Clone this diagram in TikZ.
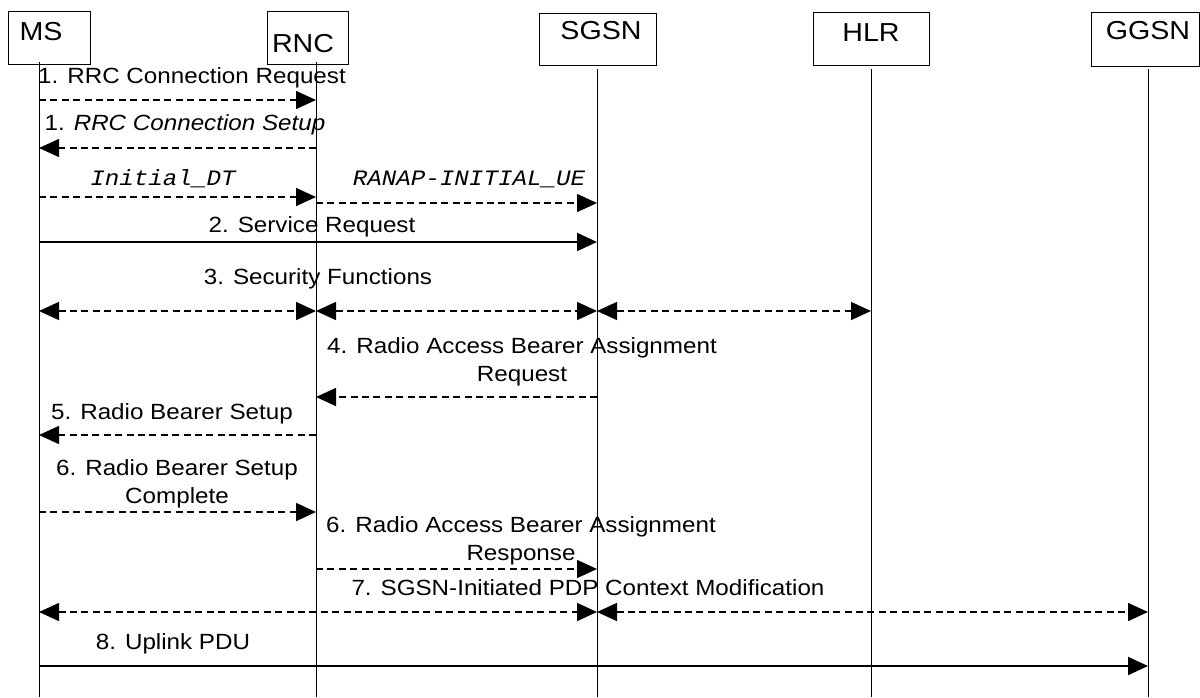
\documentclass[tikz,border=0pt]{standalone}
\usepackage{fontspec}
\setmainfont{Liberation Sans}[FakeStretch=1.1]
\setmonofont{Liberation Mono}[FakeStretch=1.1]
\usetikzlibrary{arrows.meta}

\begin{document}
\begin{tikzpicture}[x=0.5pt, y=-0.5pt,
    box/.style={draw, line width=0.5pt, inner sep=0pt},
    head/.style={inner sep=0pt, anchor=base, font=\fontsize{13}{15}\selectfont},
    lbl/.style={inner sep=0pt, anchor=base, font=\fontsize{11}{14}\selectfont},
    lifeline/.style={line width=0.5pt},
    dmsg/.style={line width=0.75pt, dash pattern=on 3.5pt off 2.2pt, -{Triangle[length=10pt, width=9pt]}},
    bmsg/.style={dmsg, {Triangle[length=10pt, width=9pt]}-{Triangle[length=10pt, width=9pt]}},
    smsg/.style={line width=1pt, -{Triangle[length=10pt, width=9pt]}}]
    \useasboundingbox (0,0) rectangle (1200,697);

    % Nodes
    \node[box, minimum width=41pt, minimum height=26.5pt] (msbox) at (49,37.5) {};
    \node[box, minimum width=40.5pt, minimum height=26.5pt] (rncbox) at (307.5,37.5) {};
    \node[box, minimum width=58.5pt, minimum height=26pt] (sgsnbox) at (597.5,39) {};
    \node[box, minimum width=58pt, minimum height=26.5pt] (hlrbox) at (871,38.5) {};
    \node[box, minimum width=54pt, minimum height=27pt] (ggsnbox) at (1145,39) {};
    \node[head] (mstxt) at (41,40) {MS};
    \node[head] (rnctxt) at (303,52) {RNC};
    \node[head] (sgsntxt) at (601,39) {SGSN};
    \node[head] (hlrtxt) at (871,41) {HLR};
    \node[head] (ggsntxt) at (1148,39) {GGSN};

    % Lifelines
    \coordinate (ms) at (39,62);
    \coordinate (rnc) at (316,62);
    \coordinate (sgsn) at (597,69);
    \coordinate (hlr) at (871,69);
    \coordinate (ggsn) at (1148,69);
    \coordinate (bot) at (0,697);
    \foreach \n in {ms, rnc, sgsn, hlr, ggsn}
        \draw[lifeline] (\n) -- (\n |- bot);

    % Labels
    \node[lbl] (t1) at (192,83) {1. RRC Connection Request};
    \node[lbl] (t2) at (185,130) {1. \textit{RRC Connection Setup}};
    \node[lbl] (t3) at (163,185) {\ttfamily\itshape Initial\_DT};
    \node[lbl] (t4) at (469,185) {\ttfamily\itshape RANAP-INITIAL\_UE};
    \node[lbl] (t5) at (312,232) {2. Service Request};
    \node[lbl] (t6) at (318,284) {3. Security Functions};
    \node[lbl, anchor=center, align=center] (t7) at (522,362) {4. Radio Access Bearer Assignment\\Request};
    \node[lbl] (t8) at (172,419) {5. Radio Bearer Setup};
    \node[lbl, anchor=center, align=center] (t9) at (177,484) {6. Radio Bearer Setup\\Complete};
    \node[lbl, anchor=center, align=center] (t10) at (521,541) {6. Radio Access Bearer Assignment\\Response};
    \node[lbl] (t11) at (588,595) {7. SGSN-Initiated PDP Context Modification};
    \node[lbl] (t12) at (173,649) {8. Uplink PDU};

    % Edges
    \coordinate (r1) at (0,100);
    \coordinate (r2) at (0,148);
    \coordinate (r3) at (0,197);
    \coordinate (r4) at (0,203);
    \coordinate (r5) at (0,242);
    \coordinate (r6) at (0,311);
    \coordinate (r7) at (0,397);
    \coordinate (r8) at (0,435);
    \coordinate (r9) at (0,512);
    \coordinate (r10) at (0,569);
    \coordinate (r11) at (0,612);
    \coordinate (r12) at (0,666);
    \draw[dmsg] (ms |- r1) -- (rnc |- r1);
    \draw[dmsg] (rnc |- r2) -- (ms |- r2);
    \draw[dmsg] (ms |- r3) -- (rnc |- r3);
    \draw[dmsg] (rnc |- r4) -- (sgsn |- r4);
    \draw[smsg] (ms |- r5) -- (sgsn |- r5);
    \draw[bmsg] (ms |- r6) -- (rnc |- r6);
    \draw[bmsg] (rnc |- r6) -- (sgsn |- r6);
    \draw[bmsg] (sgsn |- r6) -- (hlr |- r6);
    \draw[dmsg] (sgsn |- r7) -- (rnc |- r7);
    \draw[dmsg] (rnc |- r8) -- (ms |- r8);
    \draw[dmsg] (ms |- r9) -- (rnc |- r9);
    \draw[dmsg] (rnc |- r10) -- (sgsn |- r10);
    \draw[bmsg] (ms |- r11) -- (sgsn |- r11);
    \draw[bmsg] (sgsn |- r11) -- (ggsn |- r11);
    \draw[smsg] (ms |- r12) -- (ggsn |- r12);

\end{tikzpicture}
\end{document}
